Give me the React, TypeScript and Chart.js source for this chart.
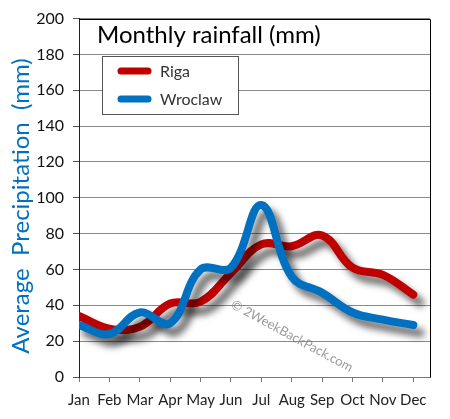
import React, { useEffect, useRef } from "react";
import { Chart, registerables } from "chart.js";

Chart.register(...registerables);

const months = ["Jan", "Feb", "Mar", "Apr", "May", "Jun", "Jul", "Aug", "Sep", "Oct", "Nov", "Dec"];
const rigaValues = [34, 27, 28, 41, 42, 58, 74, 73, 79, 61, 57, 46];
const wroclawValues = [29, 24, 36, 30, 60, 61, 96, 56, 47, 36, 32, 29];
const yTicks = [0, 20, 40, 60, 80, 100, 120, 140, 160, 180, 200];
const titleText = "Monthly rainfall (mm)";
const yAxisTitle = "Average  Precipitation  (mm)";
const watermark = "© 2WeekBackPack.com";
const seriesNames = ["Riga", "Wroclaw"];

const RED = "rgb(192,0,0)";
const BLUE = "rgb(0,112,192)";
const FONT = "Lato, 'Open Sans', sans-serif";

const shadowPlugin = {
  id: "shadowPlugin",
  beforeDatasetsDraw(chart: any) {
    const ctx = chart.ctx;
    ctx.save();
    ctx.shadowColor = "rgba(0,0,0,0.6)";
    ctx.shadowBlur = 7;
    ctx.shadowOffsetX = 7;
    ctx.shadowOffsetY = 8;
  },
  afterDatasetsDraw(chart: any) {
    chart.ctx.restore();
  },
};

const decorPlugin = {
  id: "decorPlugin",
  beforeDatasetsDraw(chart: any) {
    const ctx = chart.ctx;
    ctx.save();
    ctx.translate(292, 336);
    ctx.rotate((28.5 * Math.PI) / 180);
    ctx.font = `13px ${FONT}`;
    ctx.fillStyle = "rgba(120,120,120,0.75)";
    ctx.textAlign = "center";
    ctx.textBaseline = "middle";
    ctx.fillText(watermark, 0, 0);
    ctx.restore();
  },
  afterDraw(chart: any) {
    const ctx = chart.ctx;
    const a = chart.chartArea;
    ctx.save();
    ctx.strokeStyle = "#000";
    ctx.lineWidth = 1;
    ctx.beginPath();
    ctx.moveTo(Math.round(a.left) + 0.5, Math.round(a.top) + 0.5);
    ctx.lineTo(Math.round(a.right) + 0.5, Math.round(a.top) + 0.5);
    ctx.lineTo(Math.round(a.right) + 0.5, Math.round(a.bottom) + 0.5);
    ctx.stroke();
    // y axis title
    ctx.save();
    ctx.translate(21, 206);
    ctx.rotate(-Math.PI / 2);
    ctx.font = `24px ${FONT}`;
    ctx.fillStyle = BLUE;
    ctx.textAlign = "center";
    ctx.textBaseline = "middle";
    ctx.fillText(yAxisTitle, 0, 0);
    ctx.restore();
    // title
    ctx.font = `24px ${FONT}`;
    ctx.fillStyle = "#000";
    ctx.textAlign = "left";
    ctx.textBaseline = "middle";
    ctx.fillText(titleText, 97, 35);
    // legend box
    ctx.fillStyle = "#fff";
    ctx.fillRect(102.5, 56.5, 136, 58);
    ctx.strokeStyle = "#555";
    ctx.strokeRect(102.5, 56.5, 136, 58);
    const colors = [RED, BLUE];
    const ys = [71, 99];
    ctx.lineCap = "round";
    ctx.lineWidth = 7;
    for (let i = 0; i < 2; i++) {
      ctx.strokeStyle = colors[i];
      ctx.beginPath();
      ctx.moveTo(121, ys[i]);
      ctx.lineTo(148, ys[i]);
      ctx.stroke();
      ctx.fillStyle = "#333";
      ctx.font = `16px ${FONT}`;
      ctx.fillText(seriesNames[i], 160, ys[i] + 1);
    }
    ctx.restore();
  },
};

export default function App() {
  const ref = useRef<HTMLCanvasElement>(null);
  useEffect(() => {
    document.body.style.margin = "0";
    const chart = new Chart(ref.current!, {
      type: "line",
      data: {
        datasets: [
          {
            label: seriesNames[0],
            data: rigaValues.map((v, i) => ({ x: i, y: v })),
            borderColor: RED,
            backgroundColor: RED,
            borderWidth: 8,
            tension: 0.4,
            pointRadius: 0,
            borderCapStyle: "round",
            borderJoinStyle: "round",
            order: 2,
          },
          {
            label: seriesNames[1],
            data: wroclawValues.map((v, i) => ({ x: i, y: v })),
            borderColor: BLUE,
            backgroundColor: BLUE,
            borderWidth: 8,
            tension: 0.4,
            pointRadius: 0,
            borderCapStyle: "round",
            borderJoinStyle: "round",
            order: 1,
          },
        ],
      },
      options: {
        animation: false,
        responsive: false,
        layout: { padding: { top: 14, right: 20, left: 0, bottom: 0 } },
        plugins: { legend: { display: false }, tooltip: { enabled: false }, title: { display: false } },
        scales: {
          x: {
            type: "linear",
            min: 0,
            max: 11.55,
            afterFit: (s: any) => {
              s.height = 42;
            },
            ticks: {
              stepSize: 1,
              includeBounds: false,
              autoSkip: false,
              maxRotation: 0,
              padding: 9,
              color: "#222",
              font: { family: FONT, size: 15 },
              callback: (v: any) => months[v as number] ?? "",
            },
            grid: { drawOnChartArea: false, tickLength: 5, tickColor: "#777" },
            border: { color: "#777" },
          },
          y: {
            min: 0,
            max: 200,
            afterFit: (s: any) => {
              s.width = 79;
            },
            afterBuildTicks: (s: any) => {
              s.ticks = yTicks.map((v) => ({ value: v }));
            },
            ticks: {
              padding: 9,
              color: "#111",
              font: { family: FONT, size: 16 },
            },
            grid: { color: "#8a8a8a", tickLength: 6, tickColor: "#555" },
            border: { color: "#222" },
          },
        },
      },
      plugins: [decorPlugin, shadowPlugin],
    } as any);
    return () => chart.destroy();
  }, []);
  return <canvas ref={ref} width={450} height={419} style={{ display: "block" }} />;
}
